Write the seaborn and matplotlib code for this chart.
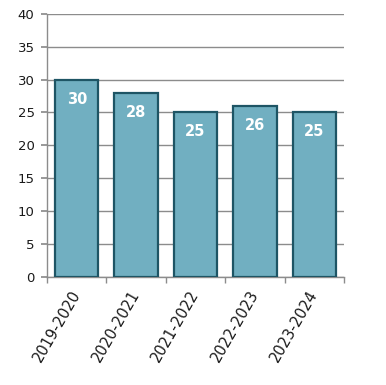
import matplotlib
matplotlib.use("Agg")
import matplotlib.pyplot as plt
import seaborn as sns
import pandas as pd
from matplotlib.ticker import FixedLocator

years = ["2019-2020", "2020-2021", "2021-2022", "2022-2023", "2023-2024"]
values = [30, 28, 25, 26, 25]

df = pd.DataFrame({"year": years, "value": values})

sns.set_theme(style="white")
plt.rcParams['font.family'] = ['DejaVu Sans']

fig = plt.figure(figsize=(3.86, 3.85), dpi=100)
ax = fig.add_axes([0.122, 0.281, 0.769, 0.683])

sns.barplot(data=df, x="year", y="value", color="#71AFC1", saturation=1,
            width=0.73, edgecolor="#1E5565", linewidth=1.6, ax=ax, zorder=3)

ax.set_ylim(0, 40)
ax.set_yticks(range(0, 41, 5))
ax.set_xlim(-0.5, len(years) - 0.5)
ax.yaxis.grid(True, color="#8C8C8C", linewidth=1.0, zorder=0)
ax.set_axisbelow(True)
ax.set_xlabel("")
ax.set_ylabel("")

for s in ["top", "right"]:
    ax.spines[s].set_visible(False)
for s in ["left", "bottom"]:
    ax.spines[s].set_color("#8C8C8C")
    ax.spines[s].set_linewidth(1.0)

ax.tick_params(axis="y", left=True, length=4, color="#8C8C8C", labelsize=9.5, labelcolor="#1A1A1A", pad=5)
ax.tick_params(axis="x", which="major", bottom=True, length=0, labelsize=10.5, labelcolor="#1A1A1A", pad=10.5)
ax.set_xticks(range(len(years)))
ax.set_xticklabels(years, rotation=60, ha="right", va="center", rotation_mode="anchor")

ax.xaxis.set_minor_locator(FixedLocator([i - 0.5 for i in range(len(years) + 1)]))
ax.tick_params(axis="x", which="minor", bottom=True, length=4, color="#8C8C8C")

for i, v in enumerate(values):
    ax.annotate(str(v), (i, v), xytext=(0, -14), textcoords="offset points",
                ha="center", va="center", color="white", fontsize=10.5, fontweight="bold")

fig.savefig("out.png", dpi=100)
